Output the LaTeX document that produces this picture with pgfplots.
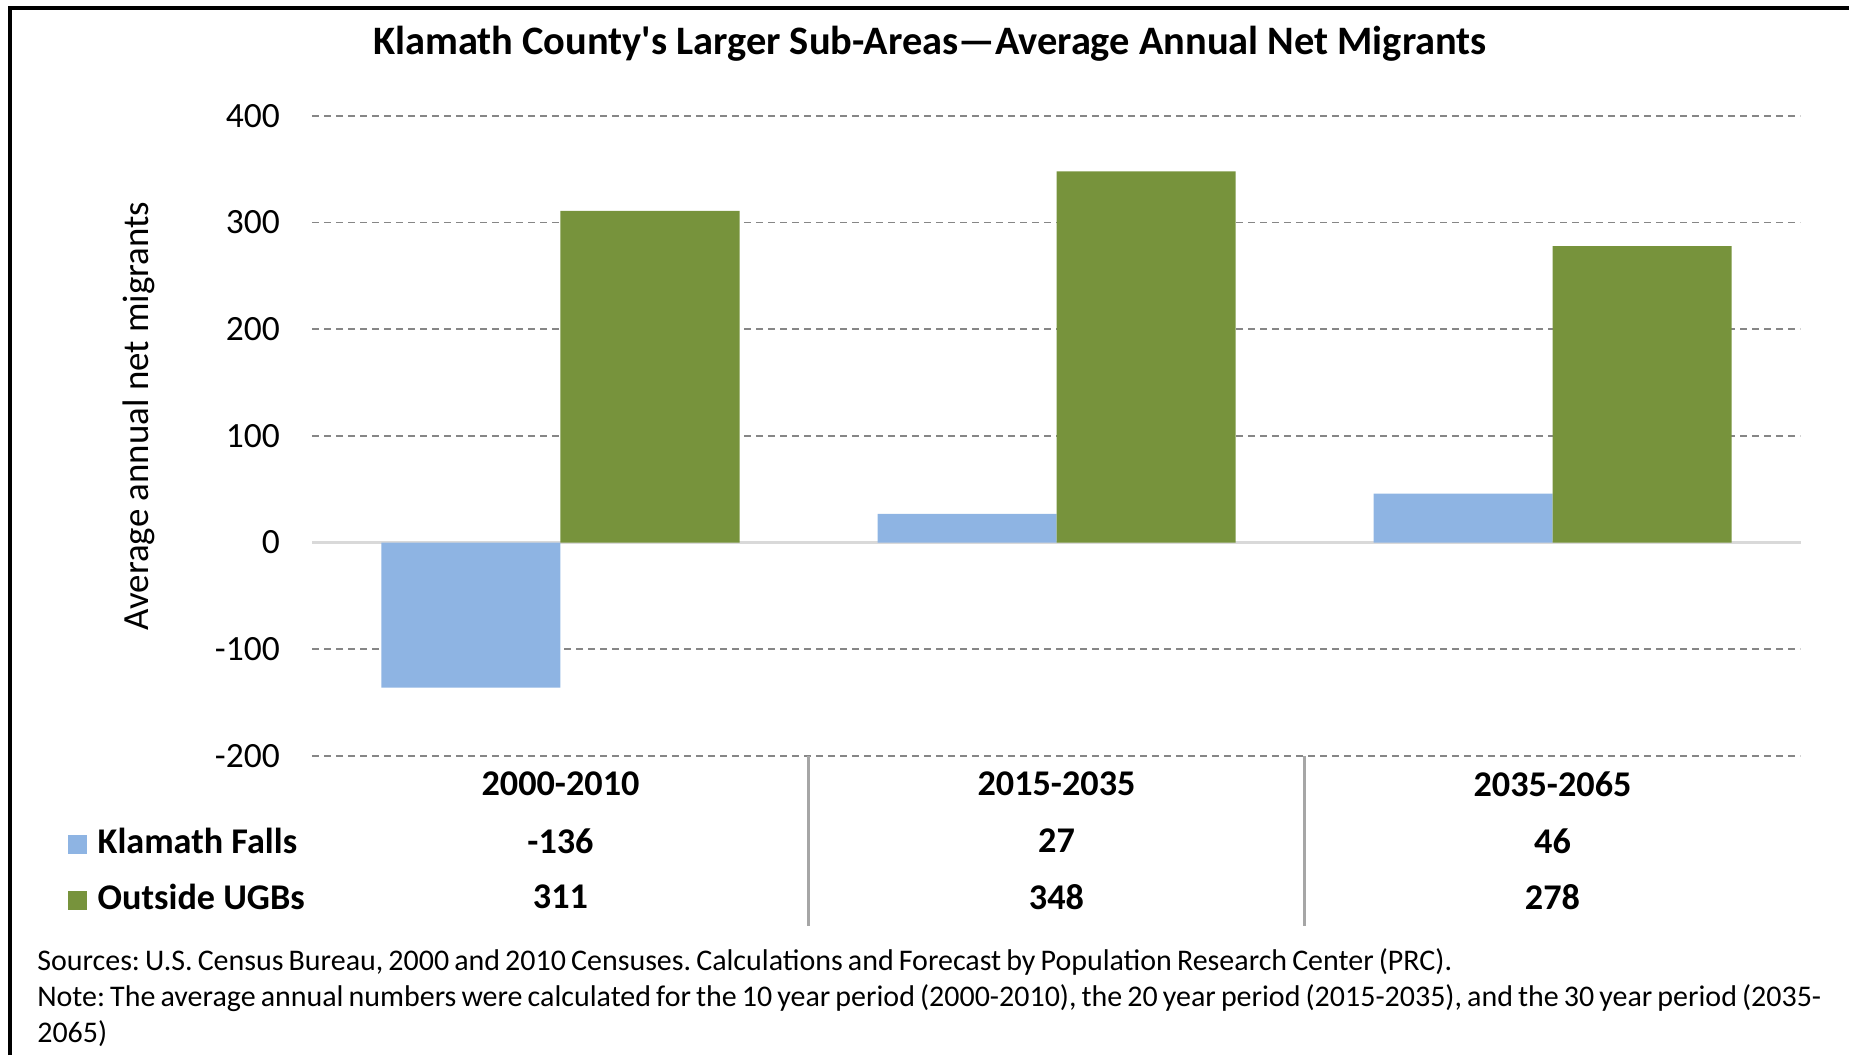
\documentclass[border=0pt]{standalone}
\usepackage{pgfplots}
\pgfplotsset{compat=1.18}
\usepackage{fontspec}
\setmainfont{Carlito}
\newfontfamily\titlefont{Carlito}[Ligatures=TeXOff]
\newcommand\footfont{\fontsize{8.53}{10}\selectfont\frenchspacing\spaceskip=0.17em plus 0.05em minus 0.05em\relax}
\definecolor{kfblue}{HTML}{8EB4E3}
\definecolor{ugbgreen}{HTML}{77933C}
\definecolor{gridgray}{HTML}{868686}
\definecolor{zerogray}{HTML}{D9D9D9}
\definecolor{sepgray}{HTML}{A6A6A6}
\begin{document}
\begin{tikzpicture}
\useasboundingbox (0,0) rectangle (184.9mm,105.5mm);
\begin{axis}[
  at={(31.25mm,29.91mm)}, anchor=south west,
  scale only axis, width=148.8mm, height=64.0mm,
  xmin=-0.5, xmax=2.5, ymin=-200, ymax=400,
  axis line style={draw=none},
  ybar=0pt, bar width=17.9mm,
  xtick={0,1,2},
  xticklabels={2000-2010,2015-2035,2035-2065},
  xticklabel style={anchor=center, yshift=-2.8mm, font=\bfseries\fontsize{10.3}{12}\selectfont},
  ytick={-200,-100,100,200,300,400},
  extra y ticks={0},
  extra y tick style={grid style={solid, draw=zerogray, line width=0.7pt}},
  ymajorgrids,
  grid style={draw=gridgray, dash pattern=on 0.7mm off 0.5mm, line width=0.45pt},
  major tick length=0pt,
  yticklabel style={anchor=east, inner sep=0pt, xshift=-3.2mm, font=\fontsize{10.1}{12}\selectfont},
  /pgf/number format/assume math mode=true,
  clip=false,
]
\addplot[fill=kfblue, draw=none] coordinates {(0,-136) (1,27) (2,46)};
\addplot[fill=ugbgreen, draw=none] coordinates {(0,311) (1,348) (2,278)};
\draw[sepgray, line width=0.6pt] (axis cs:0.5,-200) -- ([yshift=-17mm]axis cs:0.5,-200);
\draw[sepgray, line width=0.6pt] (axis cs:1.5,-200) -- ([yshift=-17mm]axis cs:1.5,-200);
\node[font=\bfseries\fontsize{10.3}{12}\selectfont, yshift=-8.5mm] at (axis cs:0,-200) {-136};
\node[font=\bfseries\fontsize{10.3}{12}\selectfont, yshift=-14.1mm] at (axis cs:0,-200) {311};
\node[font=\bfseries\fontsize{10.3}{12}\selectfont, yshift=-8.5mm] at (axis cs:1,-200) {27};
\node[font=\bfseries\fontsize{10.3}{12}\selectfont, yshift=-14.1mm] at (axis cs:1,-200) {348};
\node[font=\bfseries\fontsize{10.3}{12}\selectfont, yshift=-8.5mm] at (axis cs:2,-200) {46};
\node[font=\bfseries\fontsize{10.3}{12}\selectfont, yshift=-14.1mm] at (axis cs:2,-200) {278};
\end{axis}
\node[anchor=west, inner sep=0pt, font=\bfseries\fontsize{10.3}{12}\selectfont] at (6.7mm,21.4mm) {\textcolor{kfblue}{\rule{1.9mm}{1.9mm}}\hspace{1.1mm}Klamath Falls};
\node[anchor=west, inner sep=0pt, font=\bfseries\fontsize{10.3}{12}\selectfont] at (6.7mm,15.8mm) {\textcolor{ugbgreen}{\rule{1.9mm}{1.9mm}}\hspace{1.1mm}Outside UGBs};
\node[font=\titlefont\bfseries\fontsize{11.5}{14}\selectfont] at (93.0mm,101.1mm) {Klamath County's Larger Sub-Areas—Average Annual Net Migrants};
\node[rotate=90, font=\fontsize{10.5}{12}\selectfont] at (13.9mm,63.9mm) {Average annual net migrants};
\node[anchor=base west, inner sep=0pt, font=\footfont] at (3.66mm,8.5mm) {Sources: U.S. Census Bureau, 2000 and 2010 Censuses. Calculations and Forecast by Population Research Center (PRC).};
\node[anchor=base west, inner sep=0pt, font=\footfont] at (3.66mm,4.9mm) {Note: The average annual numbers were calculated for the 10 year period (2000-2010), the 20 year period (2015-2035), and the 30 year period (2035-};
\node[anchor=base west, inner sep=0pt, font=\footfont] at (3.66mm,1.3mm) {2065)};
\draw[line width=0.35mm] (1.0mm,0) -- (1.0mm,104.7mm) -- (184.9mm,104.7mm);
\end{tikzpicture}
\end{document}
